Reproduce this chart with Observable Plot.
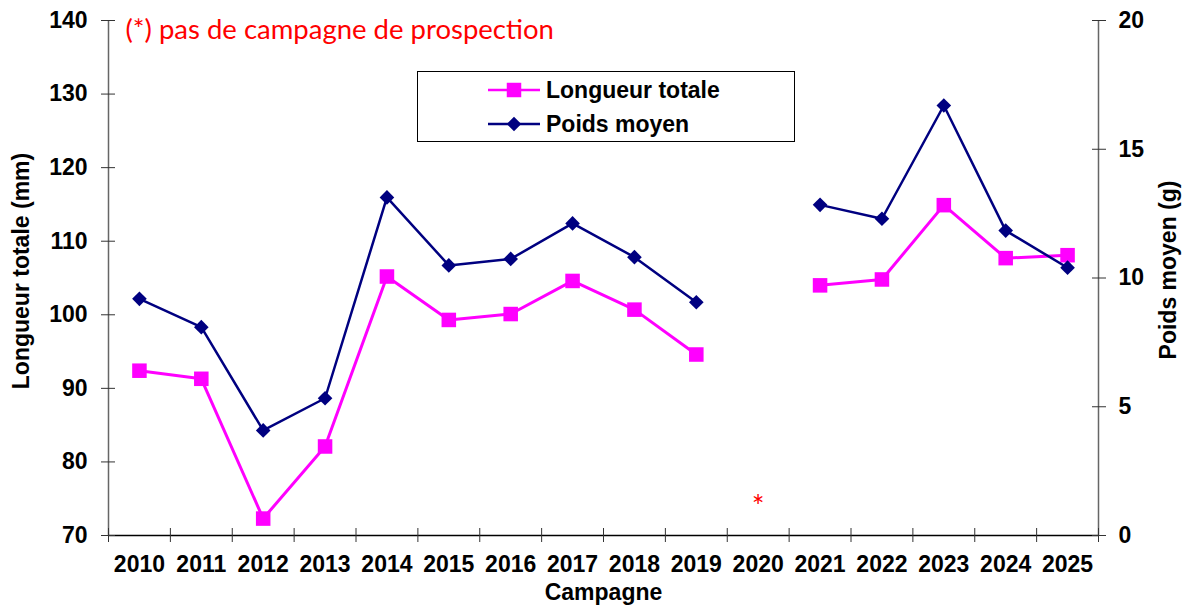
<!DOCTYPE html>
<html><head><meta charset="utf-8">
<script src="https://cdn.jsdelivr.net/npm/d3@7"></script>
<script src="https://cdn.jsdelivr.net/npm/@observablehq/plot@0.6"></script>
<style>
body{margin:0;background:#fff;}
#wrap{position:relative;width:1187px;height:608px;}
#legend{position:absolute;left:417px;top:71px;width:376px;height:69px;border:1.3px solid #000;background:#fff;font:bold 23px "Liberation Sans",Arial,sans-serif;color:#000;}
.row{position:absolute;left:70px;height:30px;display:flex;align-items:center;white-space:nowrap;}
.row svg{margin-right:6px;}
</style></head>
<body><div id="wrap"></div>
<script>
const years = [2010, 2011, 2012, 2013, 2014, 2015, 2016, 2017, 2018, 2019, 2020, 2021, 2022, 2023, 2024, 2025];
const longueur = [92.4, 91.3, 72.3, 82.1, 105.2, 99.3, 100.1, 104.6, 100.7, 94.6, null, 104.0, 104.8, 114.9, 107.7, 108.1];
const poids = [9.19, 8.09, 4.08, 5.33, 13.13, 10.49, 10.74, 12.12, 10.81, 9.06, null, 12.84, 12.30, 16.70, 11.84, 10.40];
const leftTicks = [70, 80, 90, 100, 110, 120, 130, 140];
const rightTicks = [0, 5, 10, 15, 20];
const seriesNames = ["Longueur totale", "Poids moyen"];
const note = "(*) pas de campagne de prospection";
const missingYear = [2020];
const pink = "#FF00FF", navy = "#000080";

const f = d3.scaleLinear([0, 20], [70, 140]);
const data = years.map((year, i) => ({
  year,
  L: longueur[i] == null ? NaN : longueur[i],
  P: poids[i] == null ? NaN : f(poids[i])
}));
const bounds = years.concat([years[years.length - 1] + 1]).map(y => y - 0.5);

const chart = Plot.plot({
  width: 1187, height: 608,
  marginLeft: 108, marginRight: 89, marginTop: 20, marginBottom: 73,
  x: {domain: [2009.5, 2025.5], label: null},
  y: {domain: [70, 140], label: null},
  style: {fontFamily: '"Liberation Sans", Arial, sans-serif', fontSize: "23px", fontWeight: "bold", color: "#000", background: "#fff", overflow: "visible"},
  marks: [
    Plot.ruleX([2009.5], {stroke: "#666", strokeWidth: 1.5}),
    Plot.ruleX([2025.5], {stroke: "#666", strokeWidth: 1.5}),
    Plot.ruleY([70], {stroke: "#000", strokeWidth: 1.5}),
    Plot.axisX(bounds, {anchor: "bottom", tickSize: 14, dy: -7, tickFormat: () => "", stroke: "#333", label: null}),
    Plot.axisX(years, {anchor: "bottom", tickSize: 0, tickPadding: 20, tickFormat: d => String(d), label: null}),
    Plot.axisY(leftTicks, {anchor: "left", tickSize: 14, dx: 7, tickFormat: () => "", stroke: "#333", label: null}),
    Plot.axisY(leftTicks, {anchor: "left", tickSize: 0, tickPadding: 21, label: null}),
    Plot.axisY(rightTicks.map(f), {anchor: "right", tickSize: 14, dx: -7, tickFormat: () => "", stroke: "#333", label: null}),
    Plot.axisY(rightTicks.map(f), {anchor: "right", tickSize: 0, tickPadding: 20, tickFormat: d => String(Math.round(f.invert(d))), label: null}),
    Plot.text(["Campagne"], {frameAnchor: "bottom", dy: 64, lineAnchor: "bottom"}),
    Plot.text(["Longueur totale (mm)"], {frameAnchor: "left", textAnchor: "middle", rotate: -90, dx: -87, dy: -7, lineAnchor: "middle"}),
    Plot.text(["Poids moyen (g)"], {frameAnchor: "right", textAnchor: "middle", rotate: -90, dx: 70, dy: -8, lineAnchor: "middle"}),
    Plot.text([note], {frameAnchor: "top-left", textAnchor: "start", lineAnchor: "top", dx: 17, dy: -1, fill: "red", fontSize: 27.5, fontWeight: "normal", fontFamily: "Lato"}),
    Plot.text(missingYear, {x: d => d, frameAnchor: "bottom", dy: -28, text: () => "*", fill: "red", fontSize: 30, fontWeight: "normal", fontFamily: "Lato", lineAnchor: "middle"}),
    Plot.line(data, {x: "year", y: "L", stroke: pink, strokeWidth: 3}),
    Plot.dot(data, {x: "year", y: "L", symbol: "square", r: 8.2, fill: pink, stroke: null}),
    Plot.line(data, {x: "year", y: "P", stroke: navy, strokeWidth: 2.5}),
    Plot.dot(data, {x: "year", y: "P", symbol: d3.symbolDiamond2, r: 6.6, fill: navy, stroke: null})
  ]
});
const wrap = document.getElementById("wrap");
wrap.appendChild(chart);

// legend
const legend = document.createElement("div");
legend.id = "legend";
const items = [
  {name: seriesNames[0], color: pink, sym: d3.symbolSquare, size: 210, top: 3},
  {name: seriesNames[1], color: navy, sym: d3.symbolDiamond2, size: 135, top: 37}
];
for (const it of items) {
  const row = document.createElement("div");
  row.className = "row";
  row.style.top = it.top + "px";
  const svg = d3.create("svg").attr("width", 52).attr("height", 30);
  svg.append("line").attr("x1", 0).attr("x2", 52).attr("y1", 15).attr("y2", 15).attr("stroke", it.color).attr("stroke-width", 2.5);
  svg.append("path").attr("transform", "translate(26,15)").attr("d", d3.symbol(it.sym, it.size)()).attr("fill", it.color);
  row.appendChild(svg.node());
  const span = document.createElement("span");
  span.textContent = it.name;
  row.appendChild(span);
  legend.appendChild(row);
}
wrap.appendChild(legend);
</script>
</body></html>
